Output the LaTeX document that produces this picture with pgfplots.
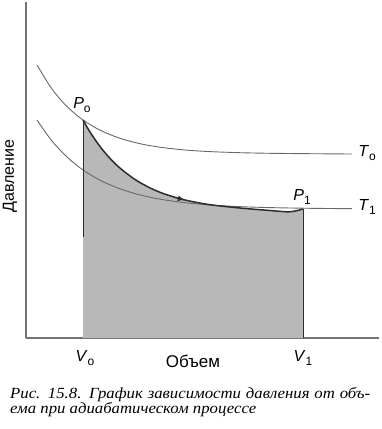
\documentclass[border=0pt]{standalone}
\usepackage{pgfplots}
\pgfplotsset{compat=1.18}
\usepackage{fontspec}
\setmainfont{Liberation Sans}
\newfontfamily\capfont[FakeStretch=1.08]{Liberation Serif}
\usetikzlibrary{decorations.markings}
\definecolor{curvegray}{RGB}{105,105,105}
\definecolor{fillgray}{RGB}{184,184,184}
\definecolor{axisgray}{RGB}{115,115,115}
\definecolor{adiab}{RGB}{45,45,45}
\newcommand{\lab}[2]{\textit{#1}\raisebox{-0.45ex}{\fontsize{12}{12}\selectfont #2}}
\begin{document}
\begin{tikzpicture}
\path[use as bounding box] (-26pt,-91pt) rectangle (356pt,338pt);
\begin{axis}[
  scale only axis, width=353pt, height=336pt,
  xmin=0, xmax=353, ymin=0, ymax=336,
  axis lines=left, axis line style={-, draw=axisgray, line width=1.1pt},
  xtick=\empty, ytick=\empty, clip=false,
]
% shaded area under adiabat
\addplot[fill=fillgray, draw=none, smooth, tension=0.5] coordinates {
 (57,218) (64,206) (74,191.5) (84,179.6) (94,169.9) (109,158.5) (124,150.1)
 (139,143.85) (159,138) (184,133.3) (214,130) (244,127.5) (264,126.2) (277,129)} \closedcycle;
% isotherm T0
\addplot[curvegray, line width=0.9pt, smooth, tension=0.5] coordinates {
 (11,273) (24,251.8) (34,239) (44,228.65) (57,218) (74,207.85) (94,199.7) (114,194.3)
 (134,190.8) (159,188) (184,186.4) (214,185.3) (244,184.7) (284,184.3) (326,184)};
% isotherm T1
\addplot[curvegray, line width=0.9pt, smooth, tension=0.5] coordinates {
 (11,218) (24,199.5) (34,188) (44,178.3) (57,168) (74,157.8) (94,149.15) (114,143.1)
 (134,138.8) (159,135.3) (184,133) (214,131.35) (244,130.4) (284,129.7) (326,129.3)};
% adiabat
\addplot[adiab, line width=1.5pt, smooth, tension=0.5, postaction={decorate}, decoration={markings, mark=at position 0.53 with {\arrow{latex}}}] coordinates {
 (57,218) (64,206) (74,191.5) (84,179.6) (94,169.9) (109,158.5) (124,150.1)
 (139,143.85) (159,138) (184,133.3) (214,130) (244,127.5) (264,126.2) (277,129)};
% verticals
\addplot[adiab, line width=1pt] coordinates {(57,218) (57,101)};
\addplot[adiab, line width=1pt] coordinates {(277,129) (277,0)};
% labels
\node at (axis cs:56,233) {\fontsize{16}{16}\selectfont\lab{P}{o}};
\node at (axis cs:276,141) {\fontsize{16}{16}\selectfont\lab{P}{1}};
\node at (axis cs:341,185) {\fontsize{16}{16}\selectfont\lab{T}{o}};
\node at (axis cs:341,131) {\fontsize{16}{16}\selectfont\lab{T}{1}};
\node at (axis cs:59,-20) {\fontsize{16}{16}\selectfont\lab{V}{o}};
\node at (axis cs:277,-20) {\fontsize{16}{16}\selectfont\lab{V}{1}};
\node at (axis cs:167,-23) {\fontsize{17}{17}\selectfont Объем};
\node[rotate=90] at (axis cs:-16,162) {\fontsize{16}{16}\selectfont Давление};
\node[anchor=north west, inner sep=0pt, align=left, font=\capfont\itshape\fontsize{15.5}{15}\selectfont] at (axis cs:-16,-49)
 {\makebox[360pt][s]{Рис. 15.8. График зависимости давления от объ-}\\ема при адиабатическом процессе};
\end{axis}
\end{tikzpicture}
\end{document}
